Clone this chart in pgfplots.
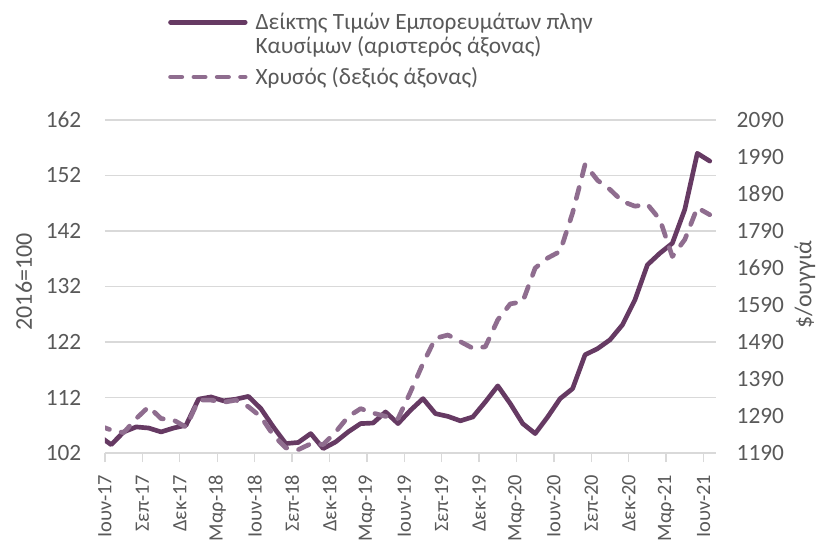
\documentclass[border=0pt]{standalone}
\usepackage{pgfplots}
\pgfplotsset{compat=1.18}
\usepackage{fontspec}
\setmainfont{Carlito}
\definecolor{solidc}{HTML}{663A63}
\definecolor{dashc}{HTML}{8F6D8F}
\definecolor{gridc}{HTML}{D9D9D9}
\definecolor{textc}{HTML}{595959}
\pgfplotsset{raisedlegend/.style={legend image code/.code={\draw[##1] (0pt,9pt) -- (56pt,9pt); \path (60pt,0pt);}}}
\pgfplotstableread{
x v
-0.5 105.1
0.5 103.5
1.5 105.8
2.5 106.7
3.5 106.5
4.5 105.8
5.5 106.5
6.5 107.0
7.5 111.7
8.5 112.1
9.5 111.4
10.5 111.7
11.5 112.2
12.5 110.0
13.5 106.7
14.5 103.7
15.5 103.9
16.5 105.5
17.5 102.8
18.5 104.0
19.5 105.8
20.5 107.3
21.5 107.4
22.5 109.4
23.5 107.3
24.5 109.7
25.5 111.8
26.5 109.1
27.5 108.6
28.5 107.8
29.5 108.5
30.5 111.2
31.5 114.1
32.5 110.9
33.5 107.3
34.5 105.5
35.5 108.5
36.5 111.8
37.5 113.6
38.5 119.7
39.5 120.8
40.5 122.4
41.5 125.1
42.5 129.6
43.5 135.9
44.5 138.0
45.5 139.8
46.5 145.9
47.5 156.0
48.5 154.6
}\commodity
\pgfplotstableread{
x v
-0.5 1264
0.5 1252
1.5 1245
2.5 1283
3.5 1315
4.5 1283
5.5 1279
6.5 1260
7.5 1333
8.5 1333
9.5 1327
10.5 1333
11.5 1315
12.5 1288
13.5 1238
14.5 1204
15.5 1199
16.5 1215
17.5 1213
18.5 1247
19.5 1288
20.5 1310
21.5 1298
22.5 1289
23.5 1283
24.5 1355
25.5 1432
26.5 1500
27.5 1509
28.5 1491
29.5 1473
30.5 1477
31.5 1550
32.5 1593
33.5 1599
34.5 1690
35.5 1717
36.5 1735
37.5 1839
38.5 1970
39.5 1927
40.5 1902
41.5 1870
42.5 1857
43.5 1862
44.5 1821
45.5 1721
46.5 1767
47.5 1853
48.5 1834
}\gold
\begin{document}
\begin{tikzpicture}
\pgfplotsset{
  every axis/.append style={
    scale only axis, width=458.25pt, height=249.75pt,
    xmin=0, xmax=49,
    font=\fontsize{17.5}{21}\selectfont,
    tick label style={text=textc, font=\fontsize{17.5}{21}\selectfont},
    label style={text=textc, font=\fontsize{18}{21}\selectfont},
    /pgf/number format/assume math mode=true,
    /pgf/number format/1000 sep={},
    ytick style={draw=none},
    y axis line style={draw=none},
  },
}
\begin{axis}[
  axis y line*=left, axis x line*=bottom,
  ymin=102, ymax=162, ytick={102,112,...,162},
  ymajorgrids, grid style={draw=gridc, line width=1pt},
  x axis line style={draw=gridc, line width=1pt, -},
  xtick={0,3,...,48},
  xticklabels={Ιουν-17,Σεπ-17,Δεκ-17,Μαρ-18,Ιουν-18,Σεπ-18,Δεκ-18,Μαρ-19,Ιουν-19,Σεπ-19,Δεκ-19,Μαρ-20,Ιουν-20,Σεπ-20,Δεκ-20,Μαρ-21,Ιουν-21},
  xticklabel style={rotate=90, anchor=east, font=\fontsize{15.3}{18}\selectfont},
  xticklabel shift=6pt,
  yticklabel shift=7.5pt,
  xtick style={draw=gridc, line width=1pt},
  tick align=outside, major tick length=6.75pt,
  ylabel={2016=100},
  ylabel style={at={(axis description cs:-0.1326,0.514)}, anchor=center},
]
\addplot[solidc, line width=3.5pt, line join=round, line cap=round] table[x=x,y=v]{\commodity};
\end{axis}
\begin{axis}[
  axis y line*=right, axis x line=none,
  ymin=1190, ymax=2090, ytick={1190,1290,...,2090},
  yticklabel shift=12pt,
  ylabel={\$/ουγγιά},
  ylabel style={at={(axis description cs:1.1456,0.505)}, anchor=center},
  legend style={at={(axis description cs:0.103,1.33)}, anchor=north west, draw=none, fill=none,
    font=\fontsize{17.5}{18}\selectfont, text=textc,
    cells={anchor=west, align=left}, row sep=5pt, inner sep=0pt},
  legend image code/.code={\draw[#1] (0pt,0pt) -- (56pt,0pt); \path (60pt,0pt);},
]
\addlegendimage{solidc, line width=3.5pt, line cap=round, raisedlegend}
\addlegendentry{Δείκτης Τιμών Εμπορευμάτων πλην\\Καυσίμων (αριστερός άξονας)}
\addplot[dashc, line width=3.5pt, line join=round, line cap=round, dash pattern=on 8.5pt off 9pt] table[x=x,y=v]{\gold};
\addlegendentry{Χρυσός (δεξιός άξονας)}
\end{axis}
\pgfresetboundingbox
\path (-78.75pt,-67.5pt) rectangle (538.5pt,339.75pt);
\end{tikzpicture}
\end{document}
